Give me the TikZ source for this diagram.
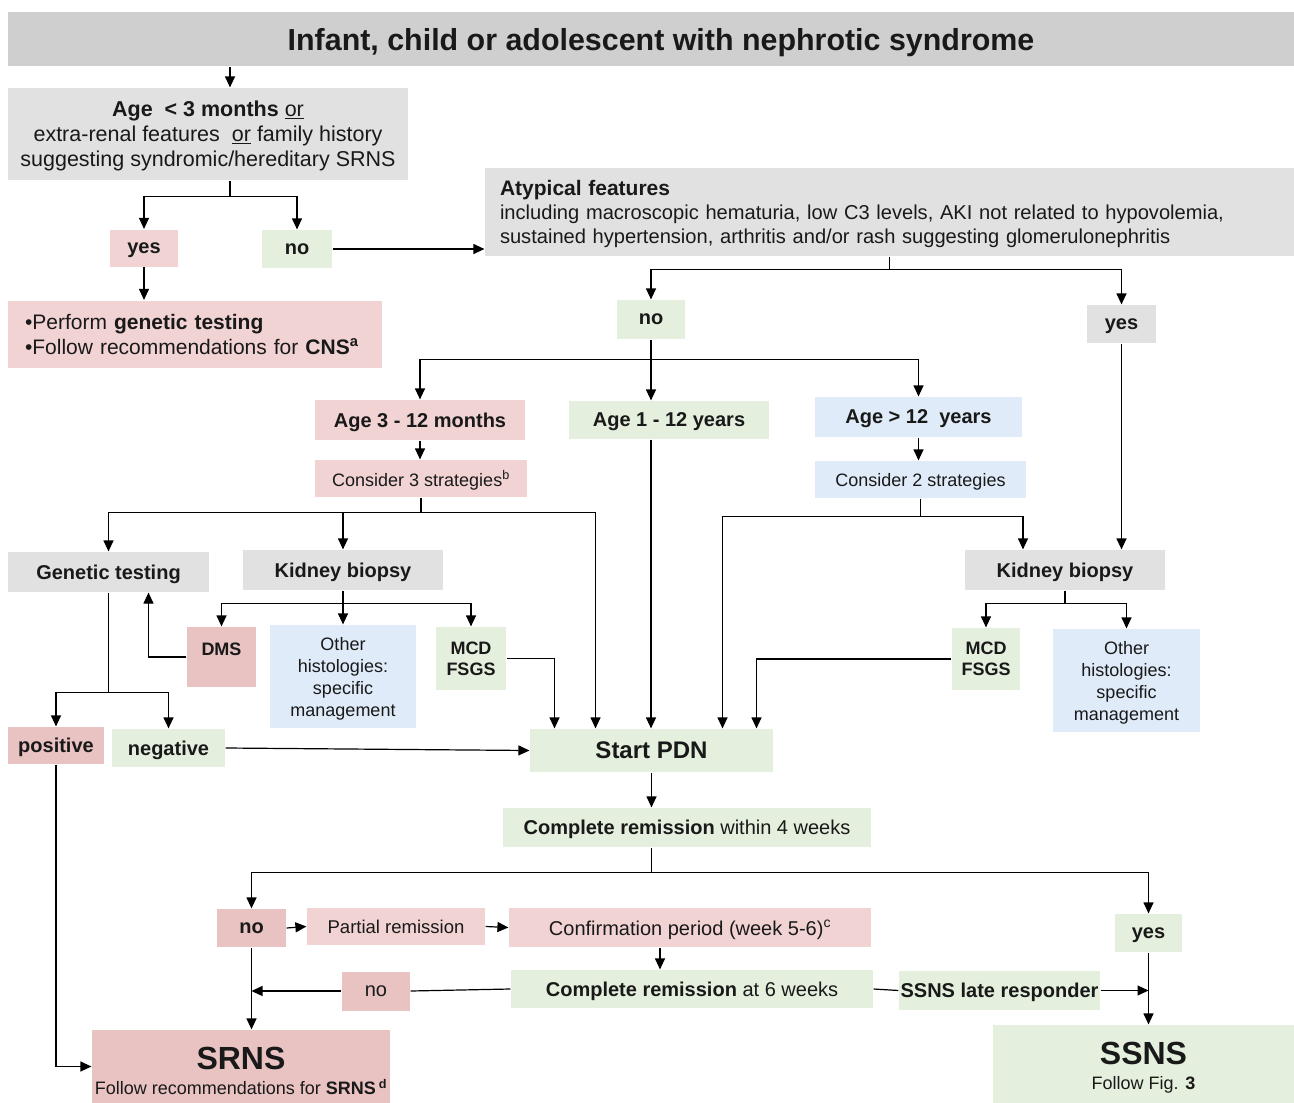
\documentclass[tikz,border=0pt]{standalone}
\usepackage{fontspec}
\setmainfont{Liberation Sans}
\usetikzlibrary{arrows.meta,calc}

\definecolor{greyD}{RGB}{207,207,207}
\definecolor{greyL}{RGB}{225,225,225}
\definecolor{pinkL}{RGB}{242,211,211}
\definecolor{pinkD}{RGB}{233,194,194}
\definecolor{greenL}{RGB}{228,240,221}
\definecolor{blueL}{RGB}{223,235,248}

\newcommand{\fsz}[2]{\fontsize{#1}{#2}\selectfont}
\newcommand{\boldlbl}{\fsz{20}{24}\bfseries}
\newcommand{\plaintxt}{\fsz{20}{24}}
\newcommand{\smalltxt}{\fsz{18}{22}}

\begin{document}
\begin{tikzpicture}[x=1pt, y=-1pt, line width=1.2pt,
	>={Triangle[length=11pt,width=10pt]},
	box/.style={inner sep=0pt, align=center, text=black!90, text depth=0pt},
	sz/.style 2 args={minimum width=#1, minimum height=#2},
	greybox/.style={box, fill=greyL},
	pinkbox/.style={box, fill=pinkL},
	darkpinkbox/.style={box, fill=pinkD},
	greenbox/.style={box, fill=greenL},
	bluebox/.style={box, fill=blueL}]
	
	\useasboundingbox (0,0) rectangle (1294,1103);
	
	% top
	\node[box, fill=greyD, sz={1286}{54}] (title) at (651,39) {};
	\node[box, font=\fsz{30.4}{34}\bfseries] (titletext) at (661,39)
		{Infant, child or adolescent with nephrotic syndrome};
	\node[greybox, sz={400}{92}, font=\fsz{21.5}{25}] (age) at (208,134)
		{\textbf{Age \ < 3 months} \underline{or}\\
		 extra-renal features \ \underline{or} family history\\
		 suggesting syndromic/hereditary SRNS};
	\node[pinkbox, sz={68}{37}, font=\boldlbl] (yesA) at (144,248) {yes};
	\node[greenbox, sz={70}{38}, font=\boldlbl] (noA) at (297,249) {no};
	\node[pinkbox, sz={374}{67}, inner xsep=17pt, text width=340pt, align=left,
		text depth=, font=\fsz{21}{25}] (cns) at (195,334)
		{\textbullet Perform \textbf{genetic testing}\\
		 \textbullet Follow recommendations for \textbf{CNS\textsuperscript{a}}};
	\node[greybox, sz={809}{88}, inner xsep=15pt, text width=779pt, align=left,
		text depth=, text height=20pt, font=\fsz{20.1}{24}] (atyp) at (889.5,212)
		{{\fsz{21}{24}\bfseries Atypical features}\\
		 including macroscopic hematuria, low C3 levels, AKI not related to hypovolemia,\\
		 sustained hypertension, arthritis and/or rash suggesting glomerulonephritis};
	\node[greenbox, sz={68}{39}, font=\boldlbl] (noB) at (651,319.5) {no};
	\node[greybox, sz={69}{38}, font=\boldlbl] (yesB) at (1121.5,324) {yes};
	
	% ages
	\node[pinkbox, sz={210}{40}, font=\boldlbl] (age1) at (420,420) {Age 3 - 12 months};
	\node[greenbox, sz={200}{38}, font=\boldlbl] (age2) at (669,420) {Age 1 - 12 years};
	\node[bluebox, sz={207}{40}, font=\boldlbl] (age3) at (918.5,417) {Age > 12 \ years};
	\node[pinkbox, sz={212}{37}, font=\smalltxt] (strat3) at (421,478.5)
		{Consider 3 strategies\textsuperscript{b}};
	\node[bluebox, sz={211}{37}, font=\smalltxt] (strat2) at (920.5,479.5)
		{Consider 2 strategies};
	
	% left branch
	\node[greybox, sz={201}{40}, font=\boldlbl] (gen) at (108.5,572) {Genetic testing};
	\node[greybox, sz={200}{40}, font=\boldlbl] (kbL) at (343,570) {Kidney biopsy};
	\node[darkpinkbox, sz={69}{60}, text depth=16pt, font=\fsz{18}{21}\bfseries] (dms)
		at (221.5,657) {DMS};
	\node[bluebox, sz={146}{103}, font=\smalltxt] (othL) at (343,676.5)
		{Other\\histologies:\\specific\\management};
	\node[greenbox, sz={70}{63}, font=\fsz{18}{21}\bfseries] (mcdL) at (471,658.5) {MCD\\FSGS};
	\node[darkpinkbox, sz={96}{37}, font=\boldlbl] (pos) at (56,745.5) {positive};
	\node[greenbox, sz={113}{38}, font=\boldlbl] (neg) at (168.5,748) {negative};
	\node[greenbox, sz={243}{43}, font=\fsz{24}{28}\bfseries] (pdn) at (651.5,750.5) {Start PDN};
	
	% right branch
	\node[greybox, sz={200}{40}, font=\boldlbl] (kbR) at (1065,570) {Kidney biopsy};
	\node[greenbox, sz={68}{62}, font=\fsz{18}{21}\bfseries] (mcdR) at (986,659) {MCD\\FSGS};
	\node[bluebox, sz={147}{103}, font=\smalltxt] (othR) at (1126.5,680.5)
		{Other\\histologies:\\specific\\management};
	
	% response
	\node[greenbox, sz={368}{39}, font=\plaintxt] (cr4) at (687,827.5)
		{\textbf{Complete remission} within 4 weeks};
	\node[darkpinkbox, sz={69}{38}, font=\boldlbl] (noC) at (251.5,928) {no};
	\node[pinkbox, sz={178}{37}, font=\fsz{18.5}{22}] (part) at (396,926.5) {Partial remission};
	\node[pinkbox, sz={362}{39}, font=\plaintxt] (conf) at (690,927.5)
		{Confirmation period (week 5-6)\textsuperscript{c}};
	\node[greenbox, sz={67}{38}, font=\boldlbl] (yesC) at (1148.5,933) {yes};
	\node[greenbox, sz={362}{38}, font=\plaintxt] (cr6) at (692,989)
		{\textbf{Complete remission} at 6 weeks};
	\node[darkpinkbox, sz={68}{39}, font=\plaintxt] (noD) at (376,991) {no};
	\node[greenbox, sz={201}{39}, font=\boldlbl] (late) at (999.5,990.5) {SSNS late responder};
	\node[darkpinkbox, sz={298}{73}, text height=56pt, font=\fsz{18}{25}] (srns) at (241,1066.5)
		{{\fsz{32}{34}\bfseries SRNS}\\Follow recommendations for \textbf{SRNS\,\textsuperscript{d}}};
	\node[greenbox, sz={301}{78}, text height=51pt, font=\fsz{18}{25}] (ssns) at (1143.5,1064)
		{{\fsz{32}{34}\bfseries SSNS}\\Follow Fig. \textbf{3}};
	
	% lines
	\coordinate (t1) at ($(age.north)+(22,0)$);
	\draw[->] (title.south -| t1) -- (t1);
	\draw (age.south -| t1) -- ++(0,16) coordinate (s1);
	\draw[->] (s1) -| (yesA.north);
	\draw[->] (s1) -| (noA.north);
	\draw[->] (noA.east) -- (noA.east -| atyp.west);
	\draw[->] (yesA.south) -- (yesA.south |- cns.north);
	
	\draw (atyp.south) -- ++(0,13) coordinate (s2);
	\draw[->] (s2) -| (noB.north);
	\draw[->] (s2) -| (yesB.north);
	
	\draw (noB.south) -- ++(0,20) coordinate (s3);
	\draw[->] (s3) -| (age1.north);
	\draw[->] (s3) -- (s3 |- age2.north);
	\draw[->] (s3) -| (age3.north);
	\draw[->] (age1.south) -- (age1.south |- strat3.north);
	\draw[->] (age3.south) -- (age3.south |- strat2.north);
	
	\draw (strat3.south) -- ++(0,15) coordinate (s4);
	\draw[->] (s4) -| (gen.north);
	\draw[->] (s4) -| (kbL.north);
	\draw[->] (s4) -| ($(pdn.north)+(-56,0)$);
	\draw[->] (s3 |- age2.south) -- (s3 |- pdn.north);
	
	\draw (kbL.south) -- ++(0,13) coordinate (s5);
	\draw[->] (s5) -| (dms.north);
	\draw[->] (s5) -- (othL.north);
	\draw[->] (s5) -| (mcdL.north);
	\draw[->] (dms.west) -| ($(gen.south)+(40,0)$);
	\draw[->] (mcdL.east) -| ($(pdn.north)+(-97,0)$);
	
	\draw (gen.south) -- ++(0,100) coordinate (s6);
	\draw[->] (s6) -| (pos.north);
	\draw[->] (s6) -| (neg.north);
	\draw[->] (neg.east) -- (pdn.west);
	\draw[->] (pos.south) |- (srns.west);
	
	\draw (strat2.south) -- ++(0,18) coordinate (s7);
	\draw[->] (s7) -| ($(pdn.north)+(71,0)$);
	\draw[->] (s7) -| ($(kbR.north)+(-42,0)$);
	\draw[->] (yesB.south) -- (yesB.south |- kbR.north);
	
	\draw (kbR.south) -- ++(0,13) coordinate (s8);
	\draw[->] (s8) -| (mcdR.north);
	\draw[->] (s8) -| (othR.north);
	\draw[->] (mcdR.west) -| ($(pdn.north)+(105,0)$);
	
	\draw[->] (pdn.south) -- (pdn.south |- cr4.north);
	\draw (pdn.south |- cr4.south) -- ++(0,25) coordinate (s9);
	\draw[->] (s9) -| (noC.north);
	\draw[->] (s9) -| (yesC.north);
	\draw[->] (noC.east) -- (part.west);
	\draw[->] (part.east) -- (conf.west);
	\coordinate (c1) at ($(conf.south)+(-30,0)$);
	\draw[->] (c1) -- (c1 |- cr6.north);
	\draw[->] (noC.south) -- (noC.south |- srns.north);
	\draw (cr6.west) -- (noD.east);
	\draw[->] (noD.west) -- (noD.west -| noC.south);
	\draw (cr6.east) -- (late.west);
	\draw[->] (late.east) -- (late.east -| yesC.south);
	\draw[->] (yesC.south) -- (yesC.south |- ssns.north);
	
\end{tikzpicture}
\end{document}
